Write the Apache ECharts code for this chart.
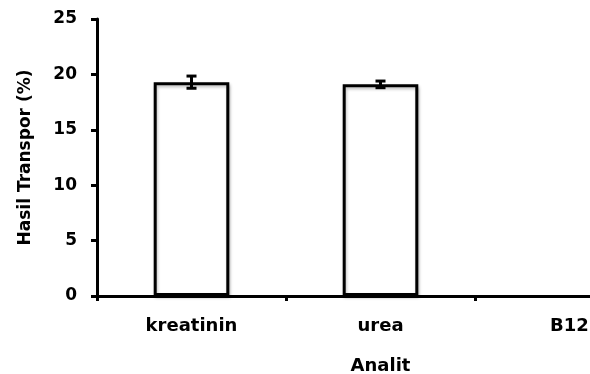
<!DOCTYPE html>
<html><head><meta charset="utf-8">
<script src="https://cdn.jsdelivr.net/npm/echarts@6/dist/echarts.min.js"></script>
<style>html,body{margin:0;padding:0;background:#fff}#c{width:590px;height:374px}</style>
</head><body><div id="c"></div>
<script>
const categories = ['kreatinin', 'urea', 'B12'];
const values = [19.3, 19.1, null];
const errors = [0.55, 0.3, null];
const yTicks = [0, 5, 10, 15, 20, 25];

const chart = echarts.init(document.getElementById('c'), null, {renderer: 'canvas'});
const font = '"DejaVu Sans", sans-serif';
chart.setOption({
  animation: false,
  grid: {left: 97, top: 19, width: 567, height: 277, outerBoundsMode: 'none', containLabel: false},
  xAxis: {
    type: 'category', data: categories,
    name: 'Analit', nameLocation: 'middle', nameGap: 61,
    nameTextStyle: {fontFamily: font, fontWeight: 'bold', fontSize: 18, color: '#000'},
    axisLine: {lineStyle: {color: '#000', width: 3}},
    axisTick: {show: true, length: 5, lineStyle: {color: '#000', width: 3}},
    axisLabel: {fontFamily: font, fontWeight: 'bold', fontSize: 18, color: '#000', margin: 21}
  },
  yAxis: {
    type: 'value', min: yTicks[0], max: yTicks[yTicks.length - 1], interval: 5,
    name: 'Hasil Transpor (%)', nameLocation: 'middle', nameGap: 63,
    nameTextStyle: {fontFamily: font, fontWeight: 'bold', fontSize: 17, color: '#000'},
    axisLine: {show: true, lineStyle: {color: '#000', width: 3}},
    axisTick: {show: true, length: 6, lineStyle: {color: '#000', width: 3}},
    axisLabel: {fontFamily: font, fontWeight: 'bold', fontSize: 17, color: '#000', margin: 20},
    splitLine: {show: false}
  },
  series: [{
    type: 'bar', data: values, barWidth: '40%',
    itemStyle: {color: '#fff', borderColor: '#000', borderWidth: 3,
      shadowColor: 'rgba(0,0,0,0.25)', shadowBlur: 3, shadowOffsetX: 1, shadowOffsetY: 2}
  }, {
    type: 'custom',
    data: categories.map((c, i) => [i, values[i], errors[i]]),
    renderItem: function (params, api) {
      const v = api.value(1), e = api.value(2);
      if (v == null || isNaN(v) || e == null || isNaN(e)) return null;
      const hi = api.coord([api.value(0), v + e]);
      const lo = api.coord([api.value(0), v - e]);
      const w = 5;
      const st = {stroke: '#000', lineWidth: 3};
      return {type: 'group', children: [
        {type: 'line', shape: {x1: hi[0], y1: hi[1], x2: lo[0], y2: lo[1]}, style: st},
        {type: 'line', shape: {x1: hi[0] - w, y1: hi[1], x2: hi[0] + w, y2: hi[1]}, style: st},
        {type: 'line', shape: {x1: lo[0] - w, y1: lo[1], x2: lo[0] + w, y2: lo[1]}, style: st}
      ]};
    },
    z: 10
  }]
});
</script></body></html>
